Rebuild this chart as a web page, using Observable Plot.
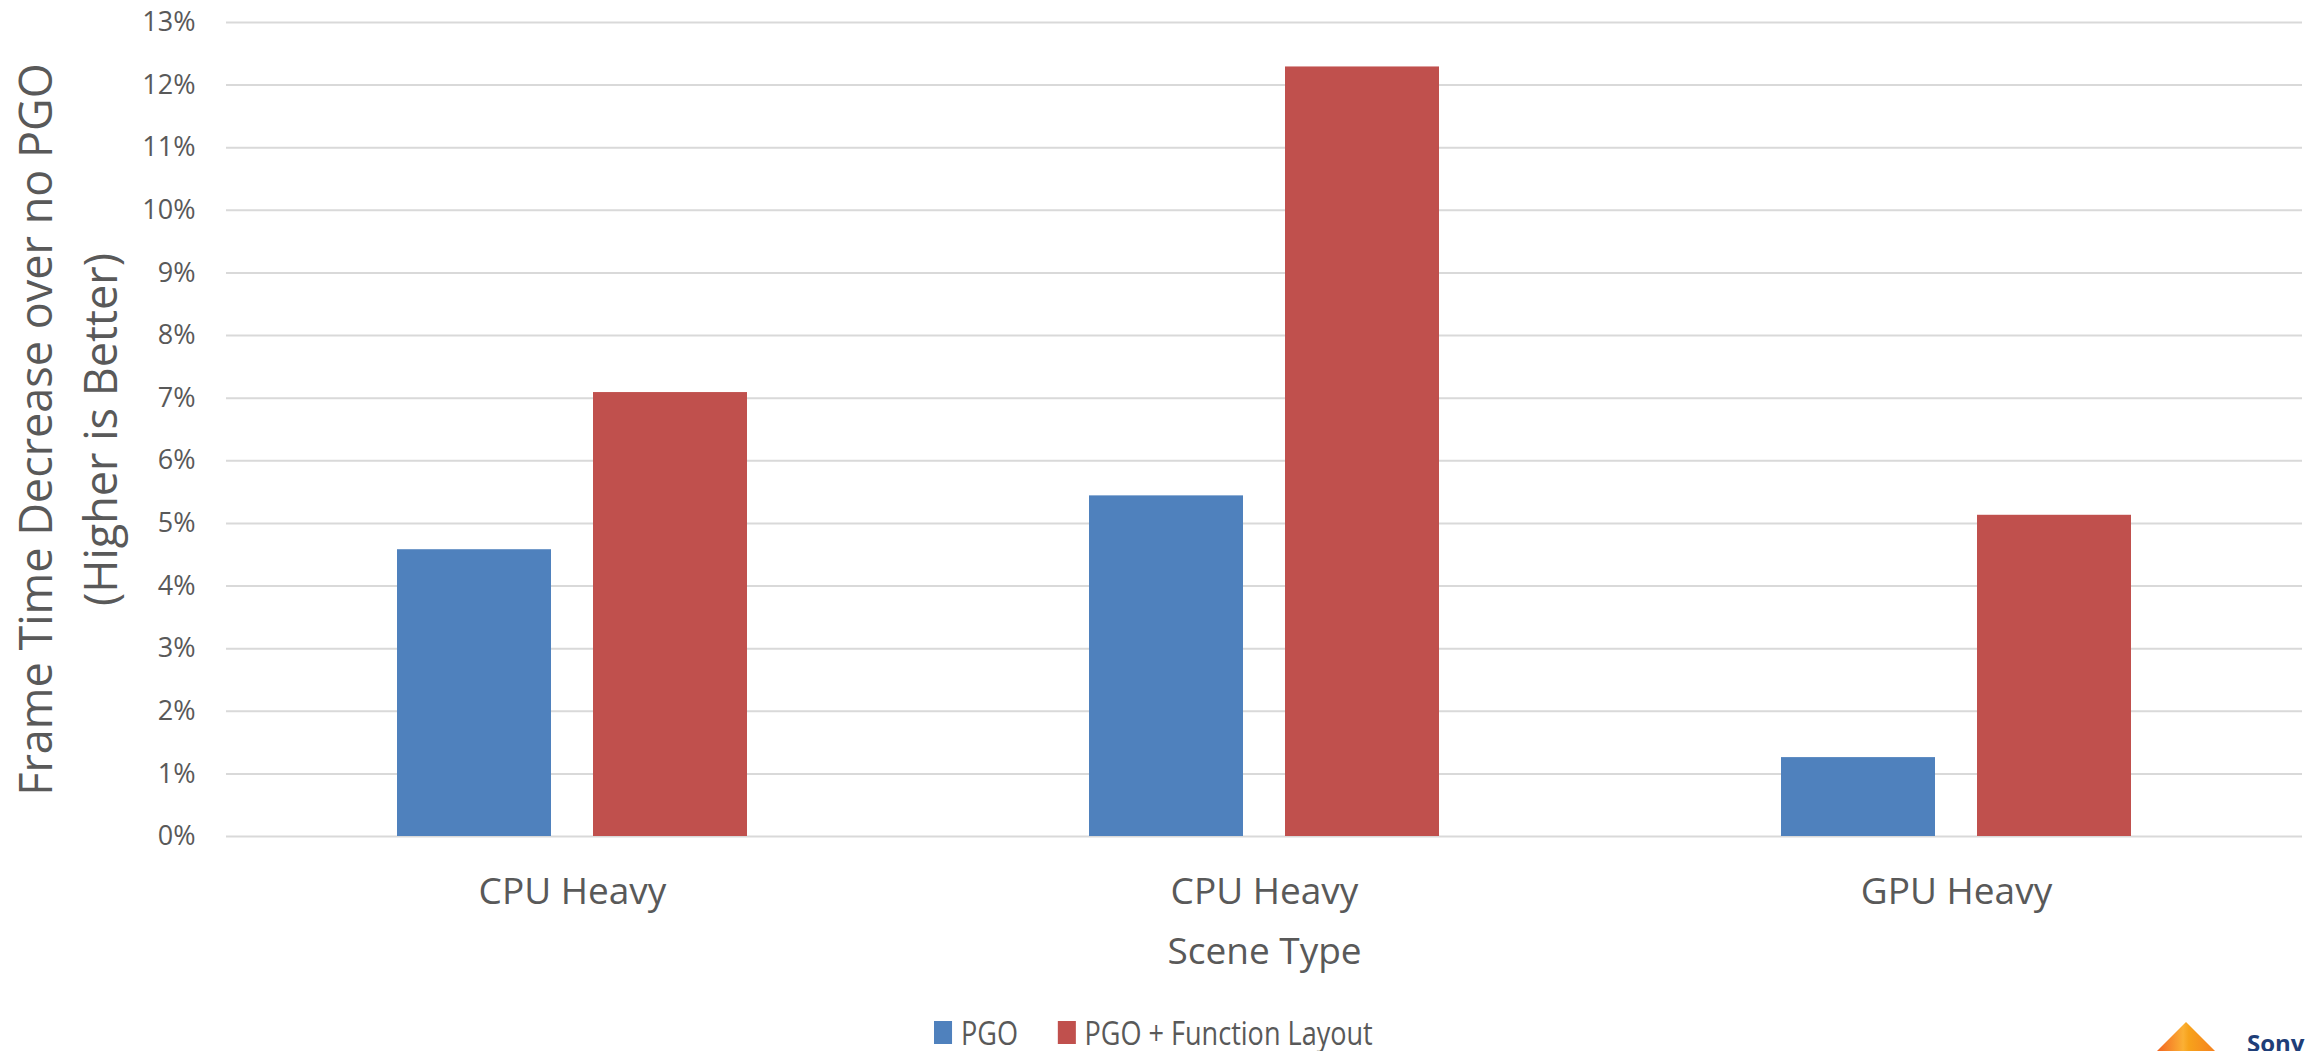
<!DOCTYPE html>
<html>
<head>
<meta charset="utf-8">
<script src="https://cdn.jsdelivr.net/npm/d3@7"></script>
<script src="https://cdn.jsdelivr.net/npm/@observablehq/plot@0.6"></script>
<style>
  html, body { margin: 0; padding: 0; background: #fff; width: 2313px; height: 1051px; overflow: hidden; }
  body { position: relative; font-family: "Open Sans", sans-serif; }
  #chart { position: absolute; left: 0; top: 0; }
  #legend {
    position: absolute; left: 934px; top: 1010px;
    transform: scaleX(0.82); transform-origin: 0 0;
    display: flex; align-items: center; white-space: nowrap;
    color: #595959; font-size: 33px; line-height: 45px;
  }
  #legend .item { display: flex; align-items: center; margin-right: 48px; }
  #legend .swatch { width: 22px; height: 23px; margin-right: 11px; }
  #logo { position: absolute; left: 2150px; top: 1015px; }
</style>
</head>
<body>
<div id="chart"></div>
<div id="legend"></div>
<svg id="logo" width="160" height="40">
  <defs>
    <linearGradient id="pyramid" x1="0" x2="1" y1="0" y2="0">
      <stop offset="0" stop-color="#f26522"/>
      <stop offset="0.45" stop-color="#fbb034"/>
      <stop offset="0.55" stop-color="#f7a21b"/>
      <stop offset="1" stop-color="#f58220"/>
    </linearGradient>
  </defs>
  <polygon points="36,7 7,36 65,36" fill="url(#pyramid)"/>
  <text x="97" y="37" fill="#1f3e78" font-family="Open Sans, sans-serif" font-weight="bold" font-size="24">Sony</text>
</svg>
<script>
// Scene categories (two distinct runs share the "CPU Heavy" label)
const scenes = ["CPU Heavy", "CPU Heavy", "GPU Heavy"];
const series = ["PGO", "PGO + Function Layout"];
const colors = ["#4f81bd", "#c0504d"];

// Frame time decrease relative to no PGO
const pgo = [0.0458, 0.0544, 0.0126];
const pgoLayout = [0.0709, 0.1229, 0.0513];

// Y tick values and their labels
const yTicks = [0, 0.01, 0.02, 0.03, 0.04, 0.05, 0.06, 0.07, 0.08, 0.09, 0.10, 0.11, 0.12, 0.13];
const yTickLabels = ["0%", "1%", "2%", "3%", "4%", "5%", "6%", "7%", "8%", "9%", "10%", "11%", "12%", "13%"];

const rows = scenes.flatMap((s, i) => [
  {scene: i, series: series[0], value: pgo[i]},
  {scene: i, series: series[1], value: pgoLayout[i]}
]);

const chart = Plot.plot({
  width: 2313,
  height: 990,
  marginTop: 22,
  marginRight: 10,
  marginBottom: 154,
  marginLeft: 225,
  style: {fontFamily: '"Open Sans", sans-serif', color: "#595959", background: "#fff", overflow: "visible"},
  fx: {domain: [0, 1, 2], padding: 0, axis: null},
  x: {domain: series, paddingInner: 0.213, paddingOuter: 0.865, axis: null},
  y: {domain: [0, 0.13], axis: null},
  color: {domain: series, range: colors},
  marks: [
    Plot.gridY(yTicks, {stroke: "#d9d9d9", strokeOpacity: 1, strokeWidth: 2}),
    Plot.axisY(yTicks, {
      tickSize: 0, tickPadding: 31, fontSize: 27,
      tickFormat: d => yTickLabels[yTicks.indexOf(d)],
      label: null
    }),
    Plot.axisY([], {
      tickSize: 0, fontSize: 45, label: "Frame Time Decrease over no PGO",
      labelAnchor: "center", labelOffset: 206, labelArrow: false
    }),
    Plot.axisY([], {
      tickSize: 0, fontSize: 45, label: "(Higher is Better)",
      labelAnchor: "center", labelOffset: 141, labelArrow: false
    }),
    Plot.axisFx({
      anchor: "bottom", tickSize: 0, tickPadding: 41, fontSize: 37,
      tickFormat: i => scenes[i],
      label: "Scene Type", labelAnchor: "center", labelOffset: 127
    }),
    Plot.barY(rows, {fx: "scene", x: "series", y: "value", fill: "series"})
  ]
});
document.getElementById("chart").appendChild(chart);

// Legend below the chart, built from the same series and colours
const legend = document.getElementById("legend");
series.forEach((name, i) => {
  const item = document.createElement("div");
  item.className = "item";
  const sw = document.createElement("span");
  sw.className = "swatch";
  sw.style.background = colors[i];
  const label = document.createElement("span");
  label.textContent = name;
  item.appendChild(sw);
  item.appendChild(label);
  legend.appendChild(item);
});
</script>
</body>
</html>
